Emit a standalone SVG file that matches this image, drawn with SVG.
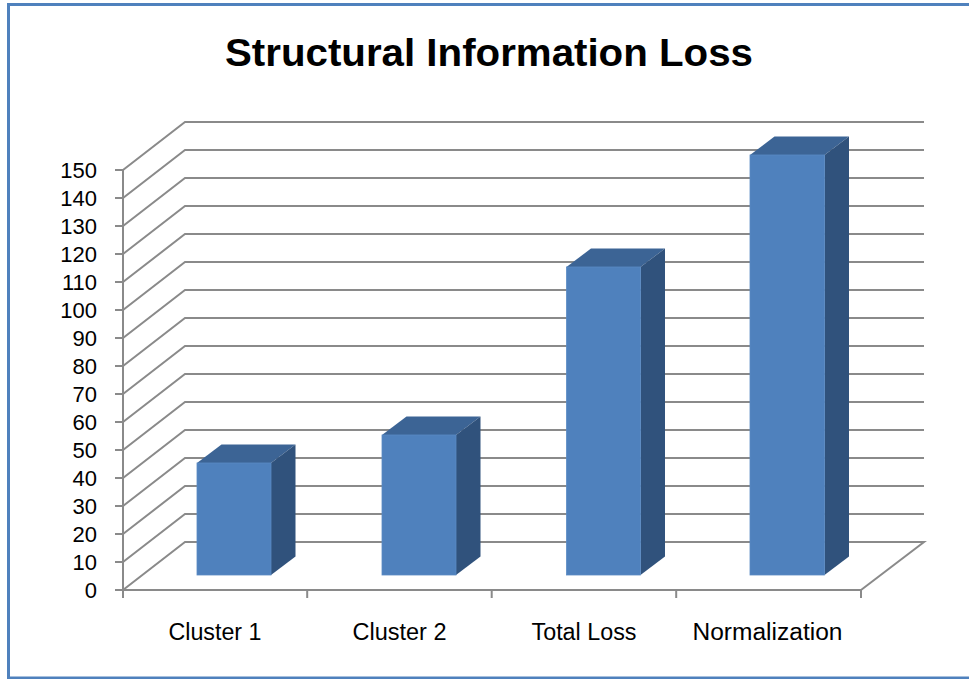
<svg xmlns="http://www.w3.org/2000/svg" width="969" height="679" viewBox="0 0 969 679">
  <style>
    .grid { stroke: #8a8a8a; stroke-width: 2; fill: none; }
    .axis { stroke: #8a8a8a; stroke-width: 2; fill: none; }
    .ylab { font-family: "Liberation Sans", Arial, sans-serif; font-size: 22px; fill: #000; text-anchor: end; }
    .xlab { font-family: "Liberation Sans", Arial, sans-serif; font-size: 23px; fill: #000; text-anchor: middle; }
    .title { font-family: "Liberation Sans", Arial, sans-serif; font-size: 38px; font-weight: bold; fill: #000; text-anchor: middle; }
    .front { fill: #4f81bd; stroke: #5a8ac4; stroke-width: 0.8; }
    .top { fill: #3c6495; }
    .side { fill: #30527c; }
  </style>

  <rect x="0" y="0" width="969" height="679" fill="#ffffff"/>
  <!-- frame -->
  <rect x="8.5" y="4.5" width="980" height="673.5" fill="none" stroke="#4f81bd" stroke-width="3"/>

  <text class="title" x="489" y="66" textLength="528" lengthAdjust="spacingAndGlyphs">Structural Information Loss</text>

  <!-- walls and gridlines -->
  <g id="gridlines">
    <path class="grid" d="M123 170 L185 122 H924"/>
    <path class="grid" d="M123 198 L185 150 H924"/>
    <path class="grid" d="M123 226 L185 178 H924"/>
    <path class="grid" d="M123 254 L185 206 H924"/>
    <path class="grid" d="M123 282 L185 234 H924"/>
    <path class="grid" d="M123 310 L185 262 H924"/>
    <path class="grid" d="M123 338 L185 290 H924"/>
    <path class="grid" d="M123 366 L185 318 H924"/>
    <path class="grid" d="M123 394 L185 346 H924"/>
    <path class="grid" d="M123 422 L185 374 H924"/>
    <path class="grid" d="M123 450 L185 402 H924"/>
    <path class="grid" d="M123 478 L185 430 H924"/>
    <path class="grid" d="M123 506 L185 458 H924"/>
    <path class="grid" d="M123 534 L185 486 H924"/>
    <path class="grid" d="M123 562 L185 514 H924"/>
    <!-- floor -->
    <path class="grid" d="M123 590 L185 542 H924 L861 590"/>
  </g>

  <!-- axes and ticks -->
  <g id="axes">
    <path class="axis" d="M123 170 V598"/>
    <path class="axis" d="M115 590 H861"/>
    <path class="axis" d="M115 170 H123 M115 198 H123 M115 226 H123 M115 254 H123 M115 282 H123 M115 310 H123 M115 338 H123 M115 366 H123 M115 394 H123 M115 422 H123 M115 450 H123 M115 478 H123 M115 506 H123 M115 534 H123 M115 562 H123"/>
    <path class="axis" d="M307.2 590 V598 M491.7 590 V598 M676.2 590 V598 M861 589 V598"/>
  </g>

  <g id="y-labels">
    <text class="ylab" x="97" y="178">150</text>
    <text class="ylab" x="97" y="206">140</text>
    <text class="ylab" x="97" y="234">130</text>
    <text class="ylab" x="97" y="262">120</text>
    <text class="ylab" x="97" y="290">110</text>
    <text class="ylab" x="97" y="318">100</text>
    <text class="ylab" x="97" y="346">90</text>
    <text class="ylab" x="97" y="374">80</text>
    <text class="ylab" x="97" y="402">70</text>
    <text class="ylab" x="97" y="430">60</text>
    <text class="ylab" x="97" y="458">50</text>
    <text class="ylab" x="97" y="486">40</text>
    <text class="ylab" x="97" y="514">30</text>
    <text class="ylab" x="97" y="542">20</text>
    <text class="ylab" x="97" y="570">10</text>
    <text class="ylab" x="97" y="598">0</text>
  </g>

  <!-- bars: front face, top, right side -->
  <g id="bar-cluster1">
    <polygon class="top" points="197,463 221.5,444.5 295.5,444.5 271,463"/>
    <polygon class="side" points="271,463 295.5,444.5 295.5,556.5 271,575"/>
    <rect class="front" x="197" y="463" width="74" height="112"/>
  </g>
  <g id="bar-cluster2">
    <polygon class="top" points="382,435 406.5,416.5 480.5,416.5 456,435"/>
    <polygon class="side" points="456,435 480.5,416.5 480.5,556.5 456,575"/>
    <rect class="front" x="382" y="435" width="74" height="140"/>
  </g>
  <g id="bar-total-loss">
    <polygon class="top" points="566.5,267 591,248.5 665,248.5 640.5,267"/>
    <polygon class="side" points="640.5,267 665,248.5 665,556.5 640.5,575"/>
    <rect class="front" x="566.5" y="267" width="74" height="308"/>
  </g>
  <g id="bar-normalization">
    <polygon class="top" points="750,155 774.5,136.5 849,136.5 824.5,155"/>
    <polygon class="side" points="824.5,155 849,136.5 849,556.5 824.5,575"/>
    <rect class="front" x="750" y="155" width="74.5" height="420"/>
  </g>

  <g id="x-labels">
    <text class="xlab" x="215" y="640" textLength="93" lengthAdjust="spacingAndGlyphs">Cluster 1</text>
    <text class="xlab" x="399.5" y="640" textLength="94" lengthAdjust="spacingAndGlyphs">Cluster 2</text>
    <text class="xlab" x="584" y="640" textLength="105" lengthAdjust="spacingAndGlyphs">Total Loss</text>
    <text class="xlab" x="767.5" y="640" textLength="150" lengthAdjust="spacingAndGlyphs">Normalization</text>
  </g>
</svg>
